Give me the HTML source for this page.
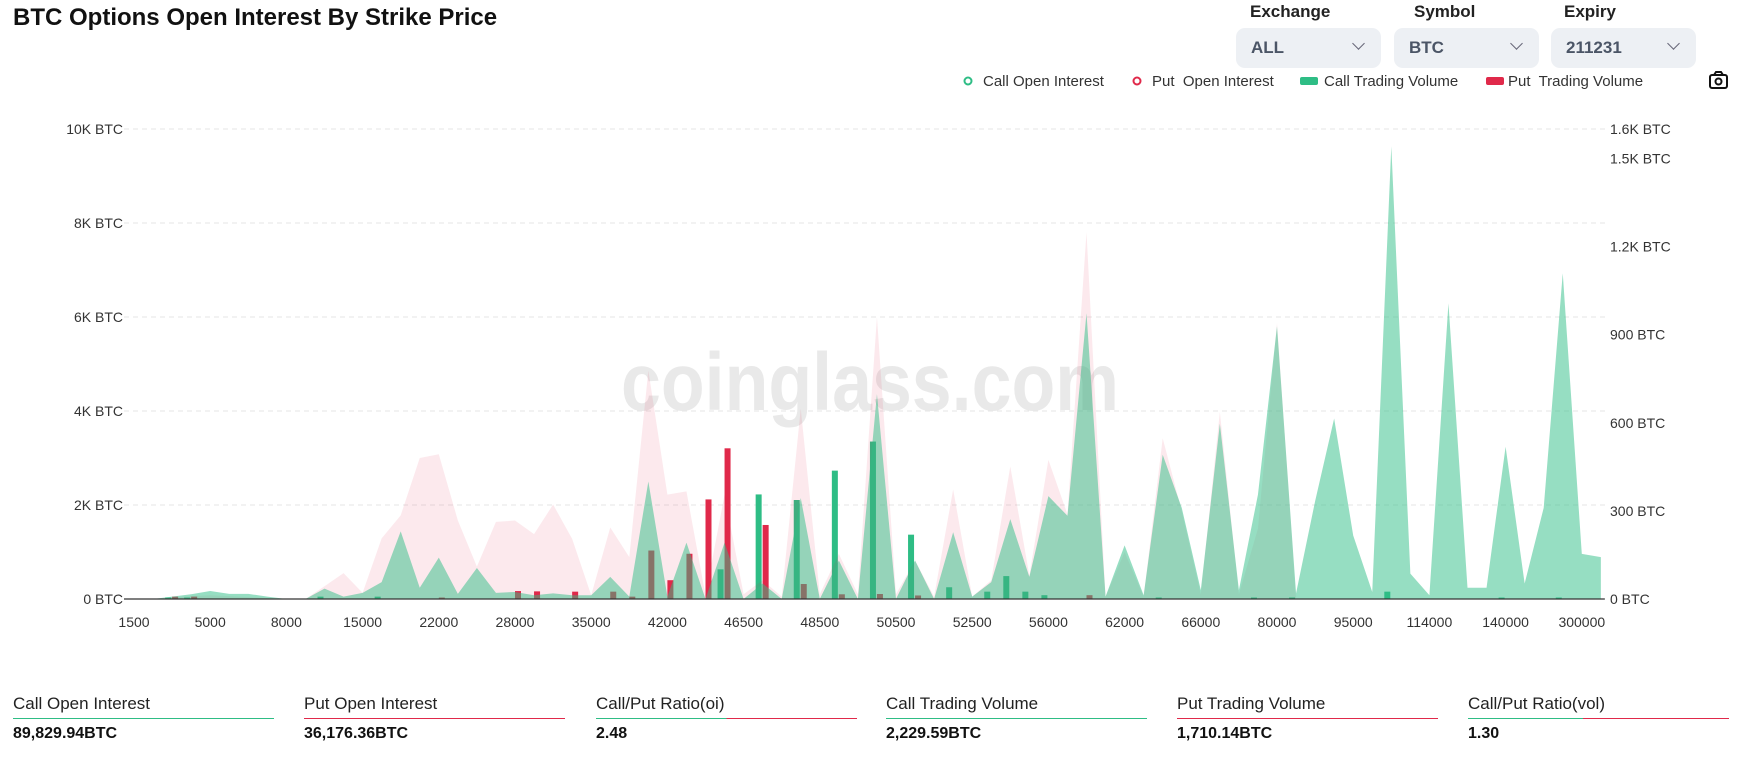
<!DOCTYPE html>
<html><head><meta charset="utf-8"><style>
body{margin:0;background:#fff;font-family:"Liberation Sans",sans-serif;}
#root{position:relative;width:1739px;height:761px;overflow:hidden;}
.title{position:absolute;left:13px;top:4px;font-size:24px;font-weight:bold;color:#111;}
.flabel{position:absolute;top:2px;font-size:17px;font-weight:bold;color:#222;}
.dd{position:absolute;top:28px;width:145px;height:40px;background:#edf0f4;border-radius:9px;}
.dd span{position:absolute;left:15px;top:10px;font-size:17px;font-weight:bold;color:#4b5566;}
.dd i{position:absolute;right:18px;top:11px;width:8px;height:8px;border-right:1.5px solid #667;border-bottom:1.5px solid #667;transform:rotate(45deg);}
.stat{position:absolute;top:694px;width:261px;}
.stat .l{font-size:17px;color:#222;height:24px;}
.stat .u{height:1px;}
.stat .v{font-size:16px;font-weight:bold;color:#111;margin-top:6px;}
</style></head><body>
<div id="root">
<div class="title">BTC Options Open Interest By Strike Price</div>
<div class="flabel" style="left:1250px">Exchange</div>
<div class="flabel" style="left:1414px">Symbol</div>
<div class="flabel" style="left:1564px">Expiry</div>
<div class="dd" style="left:1236px"><span>ALL</span><i></i></div>
<div class="dd" style="left:1394px"><span>BTC</span><i></i></div>
<div class="dd" style="left:1551px"><span>211231</span><i></i></div>

<svg id="chart" width="1739" height="761" style="position:absolute;left:0;top:0">
<g id="legend" font-size="15" fill="#333">
 <g><circle cx="968" cy="81" r="3.5" fill="none" stroke="#2ebd85" stroke-width="2"/><text x="983" y="86">Call Open Interest</text></g>
 <g><circle cx="1137" cy="81" r="3.5" fill="none" stroke="#e0294a" stroke-width="2"/><text x="1152" y="86" xml:space="preserve">Put  Open Interest</text></g>
 <g><rect x="1300" y="77" width="18" height="8" rx="2" fill="#2ebd85"/><text x="1324" y="86">Call Trading Volume</text></g>
 <g><rect x="1486" y="77" width="18" height="8" rx="2" fill="#e0294a"/><text x="1508" y="86" xml:space="preserve">Put  Trading Volume</text></g>
</g>
<g fill="none" stroke="#111" stroke-width="2"><rect x="1710" y="75" width="17" height="13" rx="2"/><path d="M1714 75 l2 -3 h5 l2 3"/><circle cx="1718.5" cy="81.5" r="3"/></g>
<text x="870" y="410" text-anchor="middle" font-size="82" font-weight="bold" fill="#e9e9e9" textLength="498" lengthAdjust="spacingAndGlyphs">coinglass.com</text>
<g id="grid"></g><g id="bars"></g><g id="areas"></g><g id="axes"></g>
</svg>

<div class="stat" style="left:13px"><div class="l">Call Open Interest</div><div class="u" style="background:#2ebd85"></div><div class="v">89,829.94BTC</div></div>
<div class="stat" style="left:304px"><div class="l">Put Open Interest</div><div class="u" style="background:#e0294a"></div><div class="v">36,176.36BTC</div></div>
<div class="stat" style="left:596px"><div class="l">Call/Put Ratio(oi)</div><div class="u" style="background:linear-gradient(90deg,#2ebd85 50%,#e0294a 50%)"></div><div class="v">2.48</div></div>
<div class="stat" style="left:886px"><div class="l">Call Trading Volume</div><div class="u" style="background:#2ebd85"></div><div class="v">2,229.59BTC</div></div>
<div class="stat" style="left:1177px"><div class="l">Put Trading Volume</div><div class="u" style="background:#e0294a"></div><div class="v">1,710.14BTC</div></div>
<div class="stat" style="left:1468px"><div class="l">Call/Put Ratio(vol)</div><div class="u" style="background:linear-gradient(90deg,#2ebd85 44%,#e0294a 44%)"></div><div class="v">1.30</div></div>
</div>
<script>
const strikes=[1500,2000,3000,4000,5000,6000,7000,7500,8000,10000,11000,12000,15000,16000,18000,20000,22000,24000,25000,26000,28000,30000,32000,34000,35000,36000,38000,40000,42000,43000,44000,45000,46500,47000,47500,48000,48500,49000,49500,50000,50500,51000,51500,52000,52500,53000,54000,55000,56000,58000,60000,61000,62000,63000,64000,65000,66000,68000,70000,75000,80000,85000,90000,92000,95000,100000,105000,110000,114000,120000,125000,130000,140000,150000,200000,250000,300000,400000];
const callOI=[0,0,50,100,170,110,110,50,0,0,220,50,130,360,1440,240,880,110,660,130,150,80,120,80,80,470,50,2500,50,1200,0,1200,0,330,0,2150,0,820,0,4360,0,820,0,1420,50,360,1700,470,2190,1770,6080,50,1140,80,3070,1940,190,3730,190,2220,5800,120,2080,3840,1350,150,9630,540,80,6290,240,240,3240,330,1940,6930,960,890];
const putOI=[0,0,30,60,80,60,40,20,0,0,270,550,130,1290,1780,3000,3080,1670,690,1640,1670,1380,2010,1280,80,1520,890,4860,2220,2290,80,2220,100,400,50,4050,100,960,100,6000,100,820,50,2330,50,400,2820,500,2960,1800,7800,50,1000,50,3420,1870,100,3980,100,1500,5870,0,0,0,0,0,0,0,0,0,0,0,0,0,0,0,0,0];
const callVol=[0,0,5,5,0,0,0,0,0,0,8,0,0,8,0,0,0,0,0,0,0,0,0,0,0,0,0,0,0,0,0,101,0,356,0,337,0,437,0,536,0,219,0,40,0,25,78,25,13,0,0,0,0,0,5,0,0,0,0,5,0,5,0,0,0,0,25,0,0,0,0,0,5,0,0,5,0,0];
const putVol=[0,0,8,8,0,0,0,0,0,0,0,0,0,0,0,0,5,0,0,0,27,26,0,25,0,25,8,165,64,154,339,513,0,252,0,51,0,16,0,17,0,12,0,0,0,0,0,0,0,0,13,0,0,0,0,0,0,0,0,0,0,0,0,0,0,0,0,0,0,0,0,0,0,0,0,0,0,0];
const leftTicks=[0,2000,4000,6000,8000,10000];
const leftLabels=["0 BTC","2K BTC","4K BTC","6K BTC","8K BTC","10K BTC"];
const rightTicks=[0,300,600,900,1200,1500,1600];
const rightLabels=["0 BTC","300 BTC","600 BTC","900 BTC","1.2K BTC","1.5K BTC","1.6K BTC"];

const NS="http://www.w3.org/2000/svg";
const X0=134,X1=1600.85,Y0=599,YT=129,LMAX=10000,RMAX=1600;
function xs(i){return X0+i*(X1-X0)/(strikes.length-1);}
function yl(v){return Y0-v/LMAX*(Y0-YT);}
function yr(v){return Y0-v/RMAX*(Y0-YT);}
function mk(tag,attrs,parent){const e=document.createElementNS(NS,tag);for(const k in attrs)e.setAttribute(k,attrs[k]);parent.appendChild(e);return e;}
const grid=document.getElementById('grid'),bars=document.getElementById('bars'),areas=document.getElementById('areas'),axes=document.getElementById('axes');
leftTicks.forEach((t,k)=>{
  if(t>0){const g=mk('line',{x1:124,x2:1605,y1:yl(t),y2:yl(t),stroke:'#e6e6e6','stroke-dasharray':'5,4'},grid);
  
  }
  const tx=mk('text',{x:123,y:yl(t)+5,'text-anchor':'end','font-size':14,fill:'#333'},axes);tx.textContent=leftLabels[k];
  
  
});
rightTicks.forEach((t,k)=>{
  const tx=mk('text',{x:1610,y:yr(t)+5,'font-size':14,fill:'#333'},axes);tx.textContent=rightLabels[k];
  
  
});
strikes.forEach((s,i)=>{
  if(callVol[i]>0){const r=mk('rect',{x:xs(i)-7,y:yr(callVol[i]),width:6,height:Y0-yr(callVol[i]),fill:'#2ebd85'},bars);
  
  }
  if(putVol[i]>0){const r=mk('rect',{x:xs(i),y:yr(putVol[i]),width:6,height:Y0-yr(putVol[i]),fill:'#e0294a'},bars);
  
  }
  if(i%4===0){const tx=mk('text',{x:xs(i),y:627,'text-anchor':'middle','font-size':14,fill:'#333'},axes);tx.textContent=String(s);
  
  }
});
function area(vals,fill,name){
  let d='M'+xs(0)+','+Y0;
  vals.forEach((v,i)=>{d+=' L'+xs(i).toFixed(2)+','+yl(v).toFixed(2);});
  d+=' L'+xs(vals.length-1)+','+Y0+' Z';
  const p=mk('path',{d:d,fill:fill},areas);
  
  
}
area(putOI,'rgba(224,41,74,0.1)','put-oi-area');
area(callOI,'rgba(46,189,133,0.5)','call-oi-area');
const ax=mk('line',{x1:124,x2:X1+4,y1:Y0,y2:Y0,stroke:'#333','stroke-width':1.2},axes);


</script>
</body></html>
